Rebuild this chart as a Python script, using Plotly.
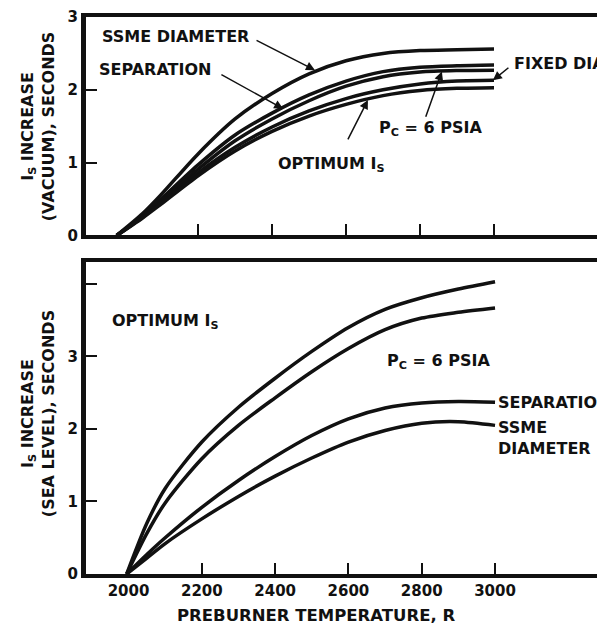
import plotly.graph_objects as go

# ---------------- data ----------------
# Top panel: Is increase (vacuum), seconds
T_vac = [1980, 2050, 2100, 2200, 2300, 2400, 2500, 2600, 2700, 2800, 2900, 3000]
vac_ssme = [0, 0.30, 0.56, 1.12, 1.60, 1.95, 2.22, 2.40, 2.50, 2.54, 2.55, 2.56]
vac_sep = [0, 0.27, 0.50, 0.97, 1.38, 1.68, 1.93, 2.12, 2.25, 2.31, 2.33, 2.34]
vac_pc = [0, 0.26, 0.47, 0.91, 1.30, 1.60, 1.85, 2.05, 2.18, 2.245, 2.265, 2.27]
vac_fixed = [0, 0.25, 0.45, 0.86, 1.21, 1.49, 1.71, 1.88, 2.00, 2.08, 2.12, 2.13]
vac_opt = [0, 0.24, 0.43, 0.82, 1.16, 1.43, 1.64, 1.80, 1.92, 1.99, 2.02, 2.03]

# Bottom panel: Is increase (sea level), seconds
T_sl = [1995, 2050, 2100, 2200, 2300, 2400, 2500, 2600, 2700, 2800, 2900, 3000]
sl_opt_a = [0, 0.70, 1.18, 1.82, 2.30, 2.70, 3.07, 3.40, 3.65, 3.81, 3.93, 4.03]
sl_opt_b = [0, 0.56, 0.98, 1.59, 2.05, 2.43, 2.79, 3.11, 3.37, 3.53, 3.61, 3.67]
sl_sep = [0, 0.27, 0.50, 0.92, 1.29, 1.62, 1.91, 2.14, 2.29, 2.36, 2.38, 2.37]
sl_ssme = [0, 0.22, 0.42, 0.76, 1.07, 1.35, 1.60, 1.82, 1.98, 2.08, 2.10, 2.05]

x_tick_vals = [2000, 2200, 2400, 2600, 2800, 3000]
x_tick_text = ["2000", "2200", "2400", "2600", "2800", "3000"]
x_mark_vals = [2200, 2400, 2600, 2800, 3000]
y_top_vals = [0, 1, 2, 3]
y_top_text = ["0", "1", "2", "3"]
y_bot_vals = [0, 1, 2, 3, 4]
y_bot_text = ["0", "1", "2", "3", ""]

# ---------------- style ----------------
INK = "#111111"
FONT = "DejaVu Sans"
LW = 3.5

fig = go.Figure()

for ys in [vac_ssme, vac_sep, vac_pc, vac_fixed, vac_opt]:
    fig.add_trace(go.Scatter(x=T_vac, y=ys, mode="lines", xaxis="x", yaxis="y",
                             line=dict(color=INK, width=LW, shape="spline", smoothing=0.8),
                             showlegend=False, hoverinfo="skip"))
for ys in [sl_opt_a, sl_opt_b, sl_sep, sl_ssme]:
    fig.add_trace(go.Scatter(x=T_sl, y=ys, mode="lines", xaxis="x2", yaxis="y2",
                             line=dict(color=INK, width=LW, shape="spline", smoothing=0.8),
                             showlegend=False, hoverinfo="skip"))

axis_common = dict(showgrid=False, zeroline=False, showline=True, linecolor=INK,
                   tickcolor=INK, tickwidth=2, ticklen=11)
tickfont = dict(family=FONT, size=15, color=INK, weight="bold")

# page body has an 8px margin, so the figure is sized 8px smaller
fig.update_layout(
    width=597, height=618,
    margin=dict(l=78, r=0, t=5, b=52),
    paper_bgcolor="white", plot_bgcolor="white",
    font=dict(family=FONT, color=INK, weight="bold"),
    xaxis=dict(anchor="y", range=[1897, 3300], tickvals=x_mark_vals, ticks="inside",
               showticklabels=False, mirror=True, linewidth=4, **axis_common),
    yaxis=dict(domain=[0.6078, 1.0], range=[0, 3], tickvals=y_top_vals, ticktext=y_top_text,
               ticks="inside", tickfont=tickfont, linewidth=5, mirror=False,
               ticklabeloverflow="allow", **axis_common),
    xaxis2=dict(anchor="y2", range=[1884, 3300], tickvals=x_tick_vals, ticktext=x_tick_text,
                ticks="", tickfont=tickfont, mirror=True, linewidth=4,
                showgrid=False, zeroline=False, showline=True, linecolor=INK),
    xaxis3=dict(overlaying="x2", anchor="y2", matches="x2", tickvals=x_mark_vals, ticks="inside",
                showticklabels=False, showline=False, showgrid=False, zeroline=False,
                tickcolor=INK, tickwidth=2, ticklen=11),
    yaxis2=dict(domain=[0.0, 0.5597], range=[0, 4.30], tickvals=y_bot_vals, ticktext=y_bot_text,
                ticks="inside", tickfont=tickfont, linewidth=5, mirror=False, **axis_common),
)
# invisible trace so xaxis3 (tick marks) renders
fig.add_trace(go.Scatter(x=[2000], y=[0], xaxis="x3", yaxis="y2", mode="markers",
                         marker=dict(opacity=0), showlegend=False, hoverinfo="skip"))

lab = dict(family=FONT, size=16, color=INK, weight="bold")

def text(x, y, s, xr, yr, xanchor="left", yanchor="middle", align="left", size=16):
    f = dict(lab)
    f["size"] = size
    fig.add_annotation(x=x, y=y, xref=xr, yref=yr, text=s, showarrow=False,
                       xanchor=xanchor, yanchor=yanchor, align=align, font=f)

def arrow(hx, hy, tx, ty, xr, yr):
    fig.add_annotation(x=hx, y=hy, ax=tx, ay=ty, xref=xr, yref=yr, axref=xr, ayref=yr,
                       text="", showarrow=True, arrowhead=2, arrowsize=1.2,
                       arrowwidth=1.5, arrowcolor=INK, standoff=0, startstandoff=0)

# top panel labels
text(1935, 2.73, "SSME DIAMETER", "x", "y")
arrow(2516, 2.27, 2354, 2.69, "x", "y")
text(1927, 2.28, "SEPARATION", "x", "y")
arrow(2430, 1.74, 2259, 2.22, "x", "y")
text(2684, 1.47, "P<sub>C</sub> = 6 PSIA", "x", "y")
arrow(2859, 2.25, 2814, 1.61, "x", "y")
text(3049, 2.36, "FIXED DIA", "x", "y")
arrow(2997, 2.13, 3043, 2.32, "x", "y")
text(2411, 0.97, "OPTIMUM I<sub>S</sub>", "x", "y")
arrow(2659, 1.86, 2603, 1.30, "x", "y")

# bottom panel labels
text(1950, 3.48, "OPTIMUM I<sub>S</sub>", "x2", "y2")
text(2700, 2.93, "P<sub>C</sub> = 6 PSIA", "x2", "y2")
text(3003, 2.37, "SEPARATION", "x2", "y2")
text(3003, 2.18, "SSME<br>DIAMETER", "x2", "y2", yanchor="top")

# axis titles
fig.add_annotation(x=(316 - 86) / 519, y=(574 - 616) / 561, xref="paper", yref="paper",
                   text="PREBURNER TEMPERATURE, R", showarrow=False,
                   xanchor="center", yanchor="middle", font=dict(lab, size=16.5))
fig.add_annotation(x=(38 - 86) / 519, y=(574 - 123) / 561, xref="paper", yref="paper",
                   text="I<sub>S</sub> INCREASE<br>(VACUUM), SECONDS", showarrow=False,
                   textangle=-90, xanchor="center", yanchor="middle", font=lab)
fig.add_annotation(x=(38 - 86) / 519, y=(574 - 413) / 561, xref="paper", yref="paper",
                   text="I<sub>S</sub> INCREASE<br>(SEA LEVEL), SECONDS", showarrow=False,
                   textangle=-90, xanchor="center", yanchor="middle", font=lab)

fig.write_html("out.html")
